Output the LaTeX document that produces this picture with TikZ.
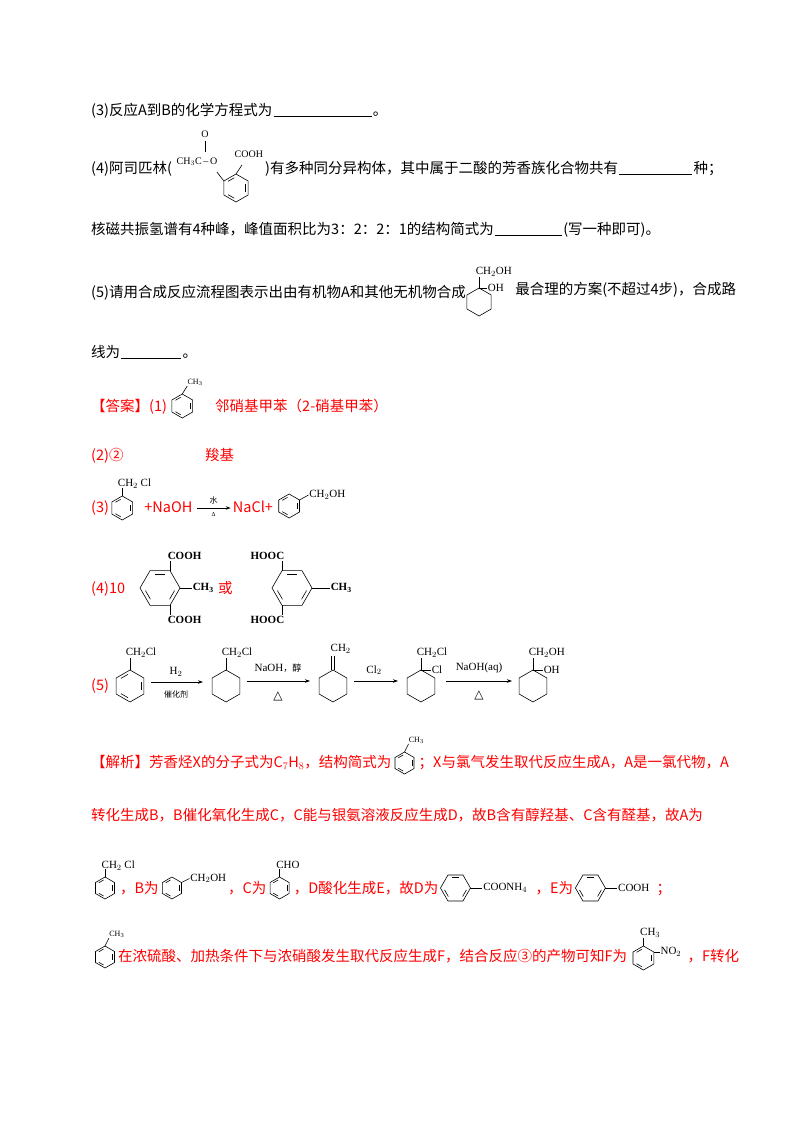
\documentclass[tikz,border=0pt]{standalone}
\usepackage{fontspec}
\setmainfont{Liberation Serif}
\newfontfamily\cjk{Noto Sans CJK SC}
\newfontfamily\dvs{DejaVu Sans}
\usetikzlibrary{calc,arrows.meta}
\newcommand\ring[4]{\begin{scope}[shift={(#1)}]\draw[bond] ({#3}:#2) \foreach\k in {1,...,5}{-- ({#3+60*\k}:#2)} -- cycle; \ifnum#4=1 \foreach\k in {0,2,4}{\draw[bond] ({#3+60*\k+10}:{0.74*#2}) -- ({#3+60*\k+50}:{0.74*#2});}\fi\end{scope}}
\tikzset{
 bond/.style={line width=0.6pt},
 t/.style={anchor=base west,inner sep=0pt,font=\cjk\fontsize{14.5}{17}\selectfont},
 r/.style={t,text=red},
 lab/.style={inner sep=0.5pt,font=\fontsize{11}{13}\selectfont},
 blab/.style={inner sep=0.5pt,font=\bfseries\fontsize{11}{13}\selectfont},
 small/.style={inner sep=0.5pt,font=\cjk\fontsize{8}{10}\selectfont},
 tri/.style={inner sep=0.5pt,font=\dvs\fontsize{12}{13}\selectfont},
 rxn/.style={line width=0.7pt,-{Stealth[length=5pt,width=3.5pt]}},
 blank/.style={line width=0.5pt}
}
\begin{document}
\begin{tikzpicture}[x=1pt,y=-1pt]
\useasboundingbox[fill=white] (0,0) rectangle (800,1132);
% (3) question
\node[t] (q3) at (91,115) {(3)反应A到B的化学方程式为};
\draw[blank] ($(q3.base east)+(1,1)$) -- ++(98,0) coordinate (q3u);
\node[t] at ($(q3u)+(1,-1)$) {。};
% (4) question
\node[t] (q4) at (91,173) {(4)阿司匹林(};
\coordinate (asp) at (236,188);
\ring{asp}{14}{90}{1}
\draw[bond] ($(asp)+(-150:14)$) -- ++(-7,-9);
\node[lab,anchor=base west,font=\fontsize{10}{12}\selectfont] at (176,164) {CH$_3$C{\,}--{\,}O};
\draw[bond] (205,152) -- (205,141);
\node[lab,font=\fontsize{10}{12}\selectfont] at (205,134) {O};
\draw[bond] ($(asp)+(-90:14)$) -- ++(6,-9);
\node[lab,anchor=base west,font=\fontsize{10}{12}\selectfont] at (234,157) {COOH};
\node[t] (q4b) at (265,173) {)有多种同分异构体，其中属于二酸的芳香族化合物共有};
\draw[blank] ($(q4b.base east)+(1,1)$) -- ++(73,0) coordinate (q4u);
\node[t] at ($(q4u)+(1,-1)$) {种；};
% NMR
\node[t] (q4c) at (91,234) {核磁共振氢谱有4种峰，峰值面积比为3：2：2：1的结构简式为};
\draw[blank] ($(q4c.base east)+(1,1)$) -- ++(67,0) coordinate (q4v);
\node[t] at ($(q4v)+(1,-1)$) {(写一种即可)。};
% (5) question
\node[t] (q5) at (91,297) {(5)请用合成反应流程图表示出由有机物A和其他无机物合成};
\coordinate (c5) at ($(q5.base east)+(13,5)$);
\ring{c5}{14}{90}{0}
\coordinate (v5) at ($(c5)+(-90:14)$);
\draw[bond] (v5) -- ++(0,-11) node[lab,anchor=south west,xshift=-4pt] {CH$_2$OH};
\draw[bond] (v5) -- ++(8,0) node[lab,anchor=west] {OH};
\node[t] at ($(c5)+(36,-8)$) {最合理的方案(不超过4步)，合成路};
\node[t] (q5b) at (91,357) {线为};
\draw[blank] ($(q5b.base east)+(1,1)$) -- ++(60,0) coordinate (q5u);
\node[t] at ($(q5u)+(1,-1)$) {。};
% Answer (1)
\node[r] (a1) at (91,411) {【答案】(1)};
\coordinate (c1) at ($(a1.base east)+(15,-5)$);
\ring{c1}{12}{90}{1}
\draw[bond] ($(c1)+(-90:12)$) -- ++(5,-8) node[lab,anchor=south west,inner sep=0pt,font=\fontsize{8}{9}\selectfont] {CH$_3$};
\node[r] at (215,411) {邻硝基甲苯（2-硝基甲苯）};
% (2)
\node[r] at (91,460) {(2)②};
\node[r] at (205,460) {羧基};
% (3)
\node[r] (a3) at (91,512) {(3)};
\coordinate (c31) at ($(a3.base east)+(13,-4)$);
\ring{c31}{12}{90}{1}
\draw[bond] ($(c31)+(-90:12)$) -- ++(0,-8);
\node[lab,anchor=south west] at ($(c31)+(-5,-19)$) {CH$_2$ Cl};
\node[r] (a3b) at ($(c31)+(22,4)$) {+NaOH};
\draw[rxn] ($(a3b.base east)+(4,-4)$) -- ++(34,0) coordinate (a3e);
\node[small] at ($(a3e)+(-17,-8)$) {水};
\node[lab,font=\fontsize{6}{7}\selectfont] at ($(a3e)+(-17,7)$) {Δ};
\node[r] (a3c) at ($(a3e)+(2,4)$) {NaCl+};
\coordinate (c32) at ($(a3c.base east)+(16,-6)$);
\ring{c32}{12}{90}{1}
\draw[bond] ($(c32)+(-30:12)$) -- ++(9,-5) node[lab,anchor=west] {CH$_2$OH};
% (4)
\node[r] (a4) at (91,593) {(4)10};
\coordinate (c41) at (160,588);
\ring{c41}{20}{0}{1}
\draw[bond] ($(c41)+(-60:20)$) -- ++(0,-10) node[blab,anchor=south west,xshift=-3pt] {COOH};
\draw[bond] ($(c41)+(0:20)$) -- ++(12,0) node[blab,anchor=west] {CH$_\mathbf{3}$};
\draw[bond] ($(c41)+(60:20)$) -- ++(0,10) node[blab,anchor=north west,xshift=-3pt] {COOH};
\node[r] at (218,593) {或};
\coordinate (c42) at (292,588);
\ring{c42}{20}{0}{1}
\draw[bond] ($(c42)+(-120:20)$) -- ++(0,-10) node[blab,anchor=south east,xshift=3pt] {HOOC};
\draw[bond] ($(c42)+(0:20)$) -- ++(18,0) node[blab,anchor=west] {CH$_\mathbf{3}$};
\draw[bond] ($(c42)+(120:20)$) -- ++(0,10) node[blab,anchor=north east,xshift=3pt] {HOOC};
% (5) route
\node[r] at (91,690) {(5)};
\coordinate (s1) at (130,686);
\ring{s1}{16}{90}{1}
\draw[bond] ($(s1)+(-90:16)$) -- ++(0,-12) node[lab,anchor=south west,xshift=-5pt] {CH$_2$Cl};
\draw[rxn] (151,682) -- (203,682);
\node[lab] at (176,672) {H$_2$};
\node[small] at (176,694) {催化剂};
\coordinate (s2) at (226,686);
\ring{s2}{16}{90}{0}
\draw[bond] ($(s2)+(-90:16)$) -- ++(0,-12) node[lab,anchor=south west,xshift=-5pt] {CH$_2$Cl};
\draw[rxn] (247,681) -- (310,681);
\node[lab] at (278,668) {NaOH{\cjk\fontsize{9}{10}\selectfont ，醇}};
\node[tri] at (278,696) {△};
\coordinate (s3) at (333,686);
\ring{s3}{16}{90}{0}
\draw[bond] ($(s3)+(-90:16)+(-1.5,0)$) -- ++(0,-14);
\draw[bond] ($(s3)+(-90:16)+(1.5,0)$) -- ++(0,-14);
\node[lab,anchor=south west] at ($(s3)+(-3,-32)$) {CH$_2$};
\draw[rxn] (354,681) -- (398,681);
\node[lab] at (374,670) {Cl$_2$};
\coordinate (s4) at (421,686);
\ring{s4}{16}{90}{0}
\draw[bond] ($(s4)+(-90:16)$) -- ++(0,-12) node[lab,anchor=south west,xshift=-5pt] {CH$_2$Cl};
\draw[bond] ($(s4)+(-90:16)$) -- ++(10,0) node[lab,anchor=west] {Cl};
\draw[rxn] (446,681) -- (512,681);
\node[lab] at (479,668) {NaOH(aq)};
\node[tri] at (479,695) {△};
\coordinate (s5) at (533,686);
\ring{s5}{16}{90}{0}
\draw[bond] ($(s5)+(-90:16)$) -- ++(0,-12) node[lab,anchor=south west,xshift=-5pt] {CH$_2$OH};
\draw[bond] ($(s5)+(-90:16)$) -- ++(10,0) node[lab,anchor=west] {OH};
% Analysis line 1
\node[r] (j1) at (91,767) {【解析】芳香烃X的分子式为C$_7$H$_8$，结构简式为};
\coordinate (j1c) at ($(j1.base east)+(13,-4)$);
\ring{j1c}{11}{90}{1}
\draw[bond] ($(j1c)+(-90:11)$) -- ++(4,-8) node[lab,anchor=south west,inner sep=0pt,font=\fontsize{8}{9}\selectfont] {CH$_3$};
\node[r] at ($(j1c)+(14,4)$) {；X与氯气发生取代反应生成A，A是一氯代物，A};
% line 2
\node[r] at (91,820) {转化生成B，B催化氧化生成C，C能与银氨溶液反应生成D，故B含有醇羟基、C含有醛基，故A为};
% line 3
\coordinate (k1) at (105,888);
\ring{k1}{11}{90}{1}
\draw[bond] ($(k1)+(-90:11)$) -- ++(0,-8);
\node[lab,anchor=south west] at ($(k1)+(-4,-17)$) {CH$_2$ Cl};
\node[r] (k1t) at ($(k1)+(15,5)$) {，B为};
\coordinate (k2) at ($(k1t.base east)+(13,-5)$);
\ring{k2}{11}{90}{1}
\draw[bond] ($(k2)+(-30:11)$) -- ++(8,-4) node[lab,anchor=west] {CH$_2$OH};
\node[r] (k2t) at ($(k2)+(56,5)$) {，C为};
\coordinate (k3) at ($(k2t.base east)+(13,-5)$);
\ring{k3}{11}{90}{1}
\draw[bond] ($(k3)+(-90:11)$) -- ++(0,-8) node[lab,anchor=south west,xshift=-4pt] {CHO};
\node[r] (k3t) at ($(k3)+(14,5)$) {，D酸化生成E，故D为};
\coordinate (k4) at ($(k3t.base east)+(17,-5)$);
\ring{k4}{15}{0}{1}
\draw[bond] ($(k4)+(0:15)$) -- ++(12,0) node[lab,anchor=west] {COONH$_4$};
\node[r] (k4t) at ($(k4)+(80,5)$) {，E为};
\coordinate (k5) at ($(k4t.base east)+(17,-5)$);
\ring{k5}{15}{0}{1}
\draw[bond] ($(k5)+(0:15)$) -- ++(12,0) node[lab,anchor=west] {COOH};
\node[r] at ($(k5)+(66,5)$) {；};
% line 4
\coordinate (m1) at (105,957);
\ring{m1}{11}{90}{1}
\draw[bond] ($(m1)+(-90:11)$) -- ++(4,-8) node[lab,anchor=south west,inner sep=0pt,font=\fontsize{8}{9}\selectfont] {CH$_3$};
\node[r] (m1t) at ($(m1)+(13,4)$) {在浓硫酸、加热条件下与浓硝酸发生取代反应生成F，结合反应③的产物可知F为};
\coordinate (m2) at ($(m1t.base east)+(16,-3)$);
\ring{m2}{12}{90}{1}
\draw[bond] ($(m2)+(-90:12)$) -- ++(0,-8) node[lab,anchor=south west,xshift=-4pt] {CH$_3$};
\draw[bond] ($(m2)+(-30:12)$) -- ++(6,0) node[lab,anchor=west] {NO$_2$};
\node[r] at ($(m2)+(44,3)$) {，F转化};
\end{tikzpicture}
\end{document}
